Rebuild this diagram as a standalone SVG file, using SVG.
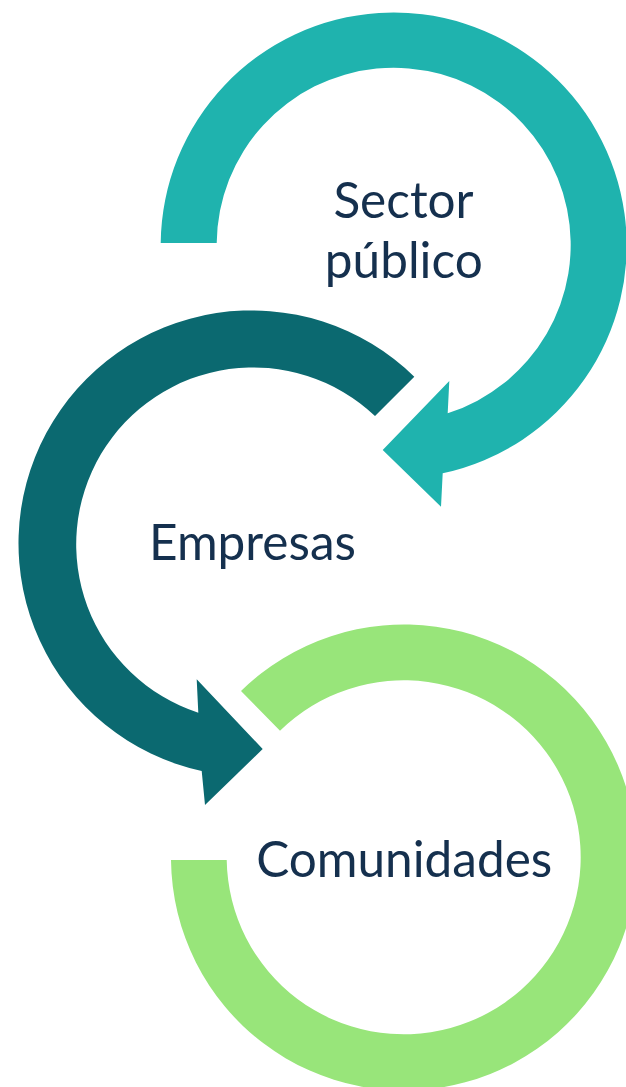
<svg xmlns="http://www.w3.org/2000/svg" width="626" height="1087" viewBox="0 0 626 1087">
  <style>
    .lbl { font-family: Lato, "Open Sans", "Liberation Sans", sans-serif; font-size: 49.5px; fill: #15304E; text-anchor: middle; }
    .teal { fill: #1FB3AE; }
    .dark { fill: #0B6970; }
    .green { fill: #98E57A; }
  </style>
  <rect width="626" height="1087" fill="#FFFFFF"/>
  <g id="connectors">
    <path id="arrow-comunidades" class="green" d="M 241,691 A 233 233 0 1 1 171,860 L 226.7,860 A 177 177 0 1 0 280,730.7 Z"/>
    <path id="arrow-empresas" class="dark" d="M 414.3,376.7 A 233 233 0 1 0 201.7,771 L 205,805 L 262.7,749 L 196.7,679.3 L 198.3,712.7 A 177 177 0 1 1 375,416 Z"/>
    <path id="arrow-sector" class="teal" d="M 160.7,243 A 233 233 0 1 1 442.7,473.3 L 441,506.7 L 382.7,450 L 449.3,381 L 447.7,413.3 A 177 177 0 1 0 216.7,243 Z"/>
  </g>
  <g id="node-sector">
    <text class="lbl" x="403.5" y="218">Sector</text>
    <text class="lbl" x="403.8" y="278">público</text>
  </g>
  <g id="node-empresas">
    <text class="lbl" x="252.5" y="560">Empresas</text>
  </g>
  <g id="node-comunidades">
    <text class="lbl" x="404.2" y="876.7">Comunidades</text>
  </g>
</svg>
